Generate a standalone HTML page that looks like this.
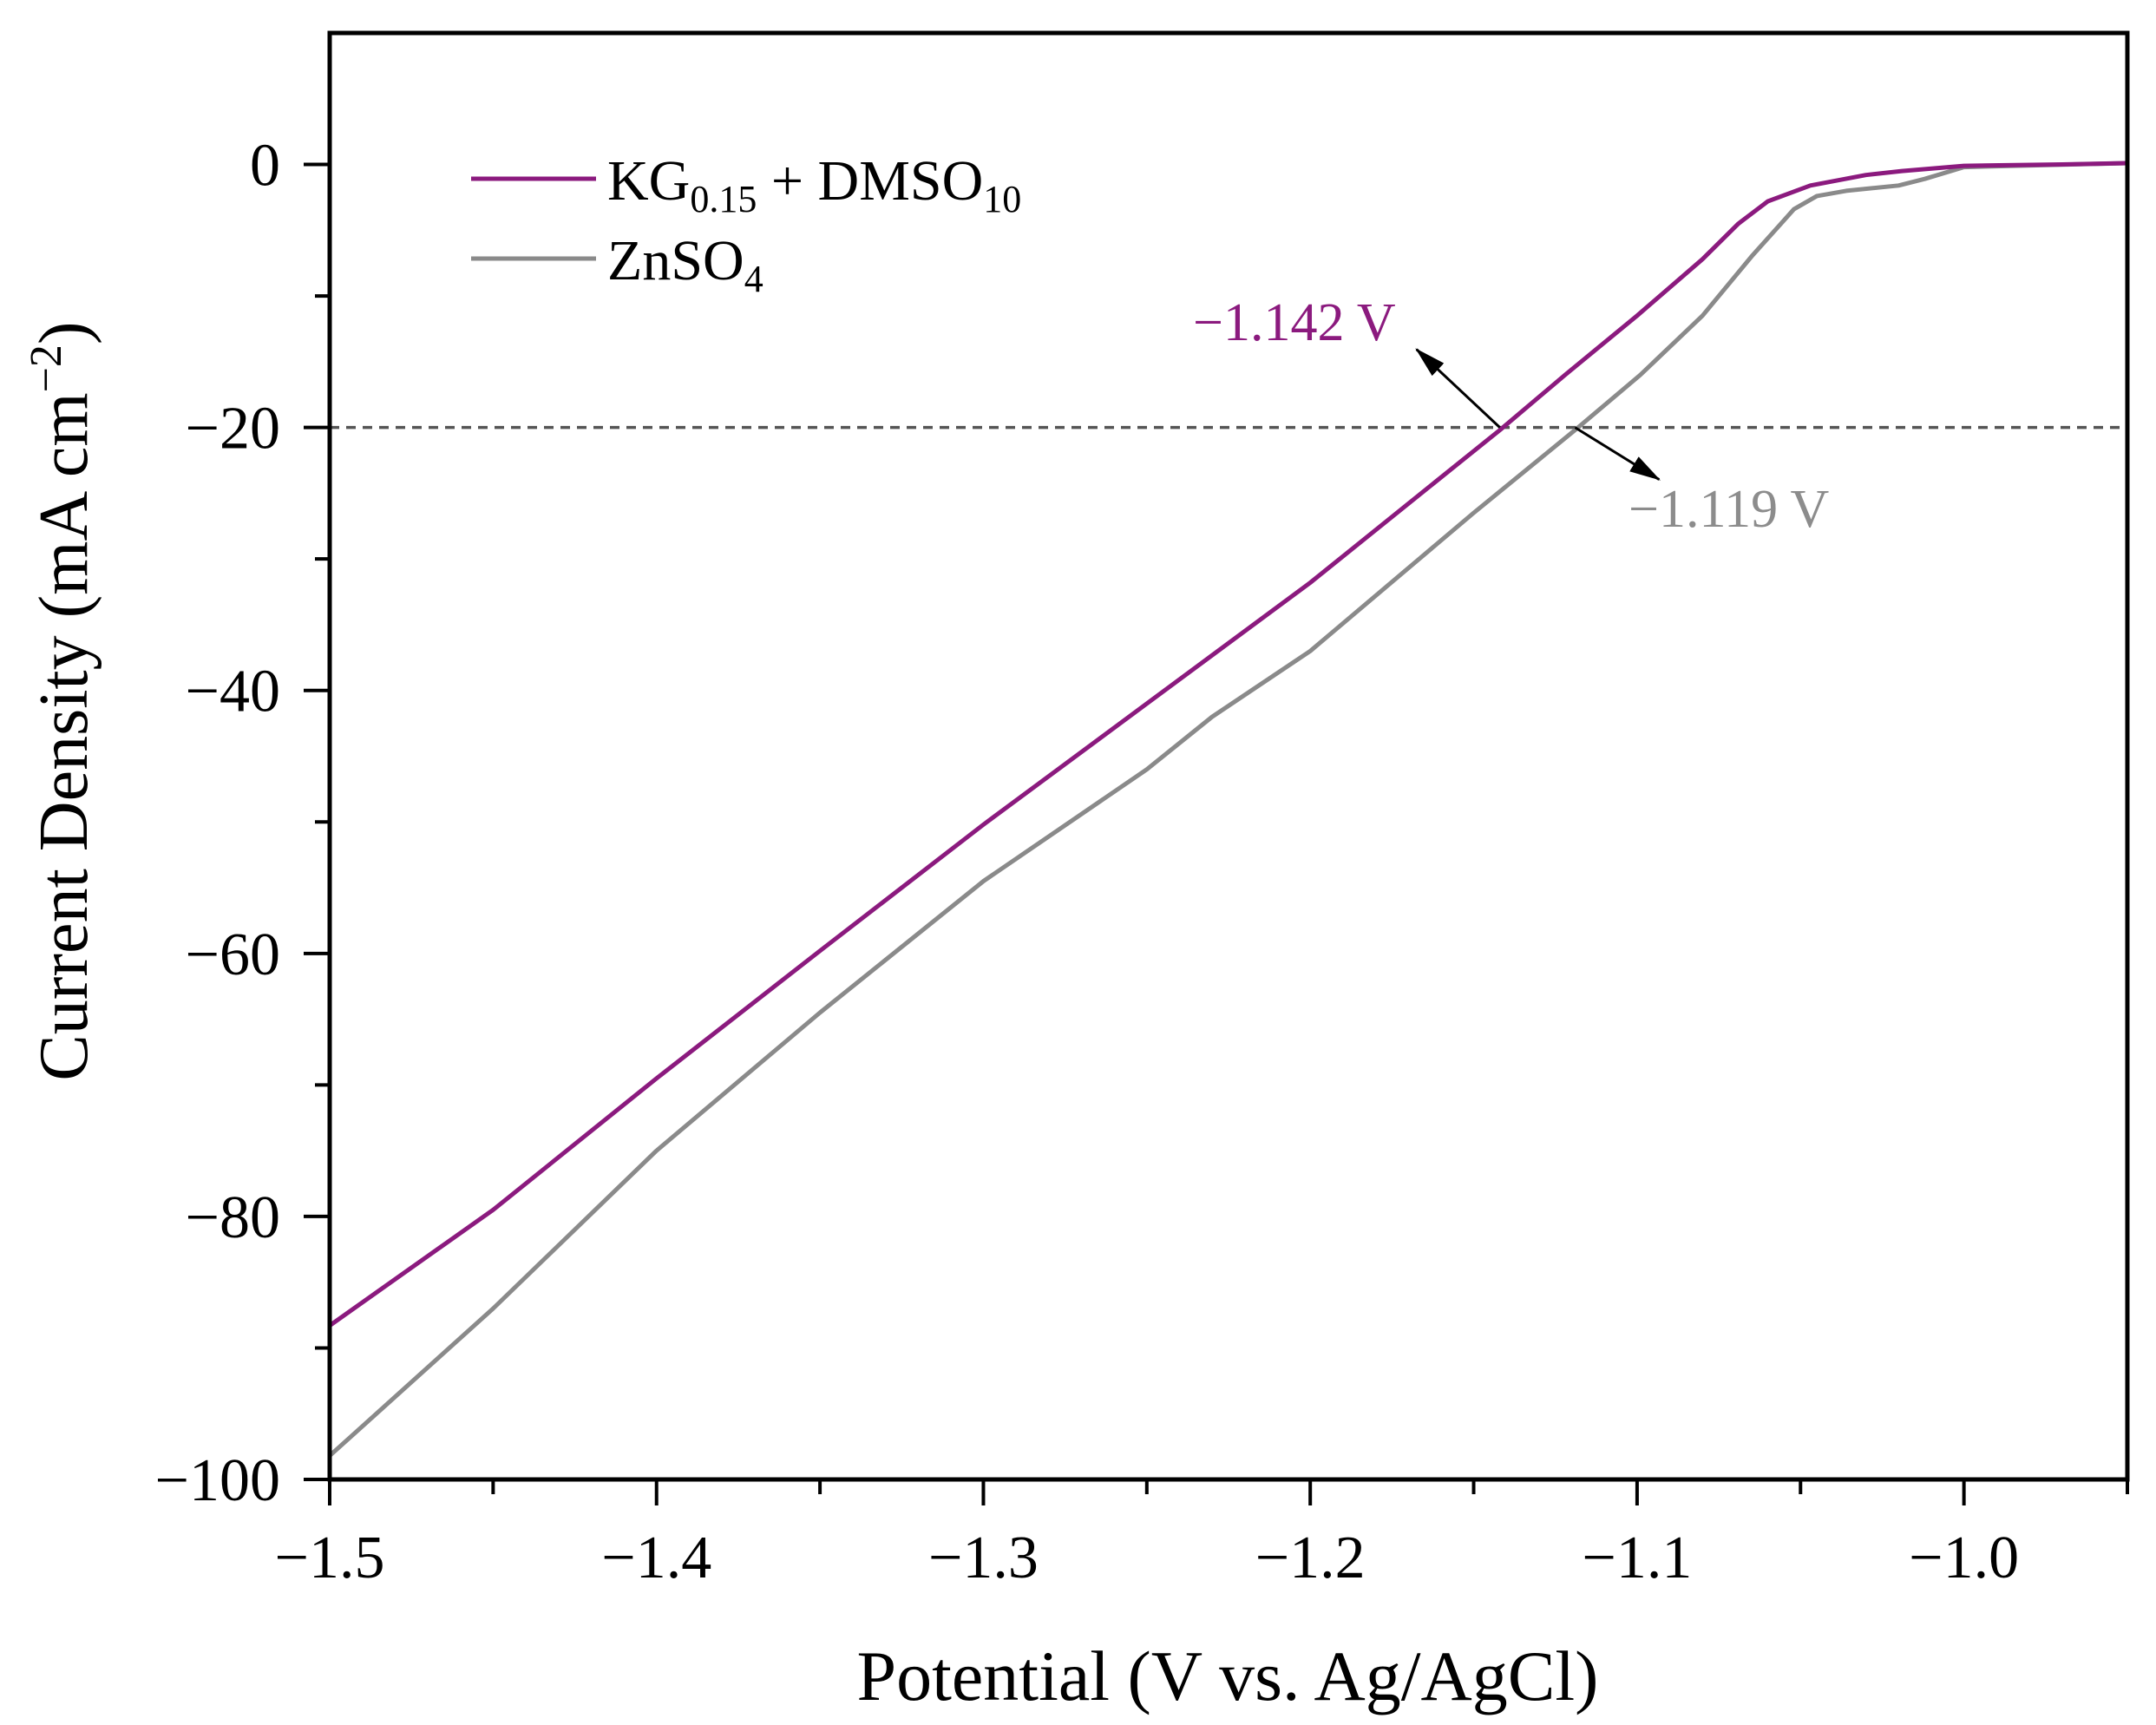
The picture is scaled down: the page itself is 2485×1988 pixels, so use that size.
<!DOCTYPE html>
<html><head><meta charset="utf-8"><style>
html,body{margin:0;padding:0;background:#fff;}
svg{display:block;font-family:"Liberation Serif",serif;}
</style></head><body>
<svg id="chart" width="2485" height="1988" viewBox="0 0 2485 1988" xmlns="http://www.w3.org/2000/svg">
<g id="plot"></g>
</svg>
<script>
const xTicks=[-1.5,-1.4,-1.3,-1.2,-1.1,-1.0];
const xTickLabels=["\u22121.5","\u22121.4","\u22121.3","\u22121.2","\u22121.1","\u22121.0"];
const yTicks=[0,-20,-40,-60,-80,-100];
const yTickLabels=["0","\u221220","\u221240","\u221260","\u221280","\u2212100"];
const kgV=[-1.5,-1.45,-1.4,-1.35,-1.3,-1.25,-1.2,-1.15,-1.142,-1.122,-1.1,-1.08,-1.069,-1.06,-1.047,-1.03,-1.019,-1.0,-0.97,-0.95];
const kgI=[-88.3,-79.5,-69.5,-59.8,-50.2,-41,-31.8,-21.8,-20.2,-16,-11.5,-7.2,-4.5,-2.8,-1.6,-0.8,-0.5,-0.1,0,0.1];
const znV=[-1.5,-1.45,-1.4,-1.35,-1.3,-1.25,-1.23,-1.2,-1.15,-1.119,-1.099,-1.08,-1.065,-1.052,-1.045,-1.036,-1.02,-1.012,-1.0,-0.95];
const znI=[-98.2,-87,-75,-64.5,-54.5,-46,-42,-37,-26.5,-20.2,-16,-11.5,-7,-3.4,-2.4,-2.0,-1.6,-1.1,-0.2,0.1];
const refI=-20;
const kgCross=-1.142, znCross=-1.119;

const X0=380,X1=2452,Y0=38,Y1=1705;
const xMin=-1.5,xMax=-0.95,yMin=-100,yMax=10;
function sx(v){return X0+(v-xMin)/(xMax-xMin)*(X1-X0);}
function sy(v){return Y1-(v-yMin)/(yMax-yMin)*(Y1-Y0);}
const NS="http://www.w3.org/2000/svg";
const g=document.getElementById('plot');
function el(t,a,p){const e=document.createElementNS(NS,t);for(const k in a)e.setAttribute(k,a[k]);(p||g).appendChild(e);return e;}

const defs=el('defs',{});
const mk=el('marker',{id:'ah',markerWidth:'36',markerHeight:'24',refX:'34',refY:'12',orient:'auto',markerUnits:'userSpaceOnUse'},defs);
el('path',{d:'M0,2 L36,12 L0,22 Z',fill:'#000'},mk);

let e=el('line',{x1:X0,x2:X1,y1:sy(refI),y2:sy(refI),stroke:'#555','stroke-width':3.5,'stroke-dasharray':'11 8'});



function line(V,I,color,name){
  let d='';for(let i=0;i<V.length;i++)d+=(i?'L':'M')+sx(V[i]).toFixed(1)+','+sy(I[i]).toFixed(1);
  const p=el('path',{d:d,fill:'none',stroke:color,'stroke-width':5,'stroke-linejoin':'round'});
  
  
}
line(znV,znI,'#8a8a8a','znso4-line');
line(kgV,kgI,'#8b1a7e','kg-dmso-line');

e=el('line',{x1:sx(kgCross),y1:sy(refI),x2:sx(kgCross)-96,y2:sy(refI)-90,stroke:'#000','stroke-width':3,'marker-end':'url(#ah)'});


e=el('line',{x1:sx(znCross),y1:sy(refI),x2:sx(znCross)+97,y2:sy(refI)+60,stroke:'#000','stroke-width':3,'marker-end':'url(#ah)'});



e=el('text',{x:1375,y:392,'font-size':62,fill:'#8b1a7e'});e.textContent='\u22121.142 V';


e=el('text',{x:1877,y:607,'font-size':62,fill:'#8c8c8c'});e.textContent='\u22121.119 V';



e=el('rect',{x:X0,y:Y0,width:X1-X0,height:Y1-Y0,fill:'none',stroke:'#000','stroke-width':5});



for(let i=0;i<xTicks.length;i++){
  const x=sx(xTicks[i]);
  el('line',{x1:x,x2:x,y1:Y1,y2:Y1+30,stroke:'#000','stroke-width':4});
  const t=el('text',{x:x,y:Y1+113,'font-size':70,'text-anchor':'middle'});t.textContent=xTickLabels[i];
  
  
  const m=xTicks[i]+0.05; if(m<xMax+1e-9) el('line',{x1:sx(m),x2:sx(m),y1:Y1,y2:Y1+17,stroke:'#000','stroke-width':4});
}
for(let i=0;i<yTicks.length;i++){
  const y=sy(yTicks[i]);
  el('line',{x1:X0,x2:X0-30,y1:y,y2:y,stroke:'#000','stroke-width':4});
  const t=el('text',{x:X0-57,y:y+24,'font-size':70,'text-anchor':'end'});t.textContent=yTickLabels[i];
  
  
  const m=yTicks[i]+10; if(m<yMax) el('line',{x1:X0,x2:X0-17,y1:sy(m),y2:sy(m),stroke:'#000','stroke-width':4});
}

el('line',{x1:543,x2:687,y1:206,y2:206,stroke:'#8b1a7e','stroke-width':5});
e=el('text',{x:700,y:230,'font-size':66});
e.innerHTML='KG<tspan font-size="44" dy="14">0.15</tspan><tspan dy="-14"> + DMSO</tspan><tspan font-size="44" dy="14">10</tspan>';


el('line',{x1:543,x2:687,y1:298,y2:298,stroke:'#8a8a8a','stroke-width':5});
e=el('text',{x:700,y:322,'font-size':66});
e.innerHTML='ZnSO<tspan font-size="44" dy="14">4</tspan>';



e=el('text',{x:1415,y:1959,'font-size':82,'text-anchor':'middle'});e.textContent='Potential (V vs. Ag/AgCl)';


e=el('text',{x:0,y:0,'font-size':80,'text-anchor':'middle',transform:'translate(100,808) rotate(-90)'});
e.innerHTML='Current Density (mA cm<tspan font-size="52" dy="-30">\u22122</tspan><tspan dy="30">)</tspan>';


</script>
</body></html>
